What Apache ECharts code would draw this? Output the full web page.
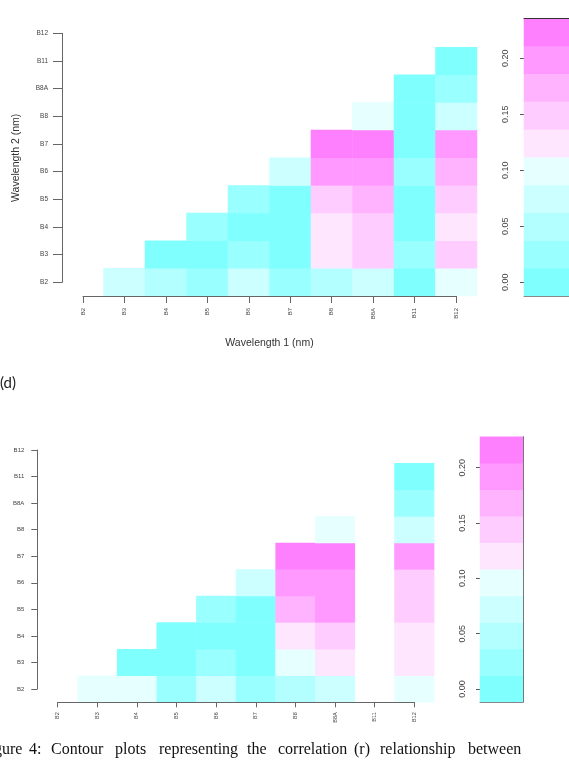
<!DOCTYPE html>
<html>
<head>
  <meta charset="utf-8">
  <title>Contour plots</title>
  <style>
    html, body { margin: 0; padding: 0; background: #fff; }
    #main { width: 569px; height: 761px; }
  </style>
</head>
<body>
  <div id="main"></div>
  <script src="https://cdn.jsdelivr.net/npm/echarts@6/dist/echarts.min.js"></script>
  <script>
    // band names, used on both axes
    const bands = ['B2', 'B3', 'B4', 'B5', 'B6', 'B7', 'B8', 'B8A', 'B11', 'B12'];
    // cm.colors(10)
    const levelColors = ['#80FFFF', '#99FFFF', '#B3FFFF', '#CCFFFF', '#E6FFFF',
                         '#FFE6FF', '#FFCCFF', '#FFB3FF', '#FF99FF', '#FF80FF'];
    const topBreaks = [-0.0125, 0.0125, 0.0375, 0.0625, 0.0875, 0.1125, 0.1375, 0.1625, 0.1875, 0.2125, 0.2375];
    const bottomBreaks = [-0.012, 0.012, 0.036, 0.060, 0.084, 0.108, 0.132, 0.156, 0.180, 0.204, 0.228];
    const barTicks = ['0.00', '0.05', '0.10', '0.15', '0.20'];

    // r values; row = Wavelength 2 (B2..B11), each row starts at the next band on Wavelength 1
    const topRows = [
      [0.075, 0.05, 0.025, 0.075, 0.025, 0.05, 0.075, 0.0, 0.1],   // B2
      [0.0, 0.0, 0.025, 0.0, 0.125, 0.15, 0.025, 0.15],            // B3
      [0.025, 0.0, 0.0, 0.125, 0.15, 0.0, 0.125],                   // B4
      [0.025, 0.0, 0.15, 0.175, 0.0, 0.15],                         // B5
      [0.075, 0.2, 0.2, 0.025, 0.175],                              // B6
      [0.225, 0.225, 0.0, 0.2],                                     // B7
      [0.1, 0.0, 0.075],                                            // B8
      [0.0, 0.025],                                                 // B8A
      [0.0]                                                         // B11
    ];
    // B11 column is empty in the second plot
    const bottomRows = [
      [0.096, 0.096, 0.024, 0.072, 0.024, 0.048, 0.072, null, 0.096],
      [0.0, 0.0, 0.024, 0.0, 0.096, 0.12, null, 0.12],
      [0.0, 0.0, 0.0, 0.12, 0.144, null, 0.12],
      [0.024, 0.0, 0.168, 0.192, null, 0.144],
      [0.072, 0.192, 0.192, null, 0.144],
      [0.216, 0.216, null, 0.192],
      [0.096, null, 0.072],
      [null, 0.024],
      [0.0]
    ];

    const captionWords = ['gure', '4:', 'Contour', 'plots', 'representing', 'the',
                          'correlation', '(r)', 'relationship', 'between'];
    const captionX = [-6, 29, 51, 115, 159, 247, 278, 354, 380, 468];

    function toCells(rows) {
      const out = [];
      rows.forEach((row, y) => {
        row.forEach((v, k) => {
          if (v !== null) out.push([y + 1 + k, y, v]);
        });
      });
      return out;
    }
    function barCells(breaks) {
      const out = [];
      for (let i = 0; i < breaks.length - 1; i++) {
        out.push([0, i, (breaks[i] + breaks[i + 1]) / 2]);
      }
      return out;
    }
    function pieces(breaks) {
      return levelColors.map((c, i) => ({ gte: breaks[i], lt: breaks[i + 1], color: c }));
    }

    const lineCol = '#666';
    const textCol = '#444';
    const font = 'Liberation Sans';

    const hidden = (grid, data) => ({ type: 'category', gridIndex: grid, data: data, show: false });

    function bandAxis(grid, pos, offset, tickLen, margin, size, rotate, extra) {
      return Object.assign({
        type: 'category', gridIndex: grid, data: bands, position: pos, offset: offset,
        boundaryGap: false, z: 5,
        axisLine: { show: true, lineStyle: { color: lineCol, width: 1 } },
        axisTick: { show: true, length: tickLen, interval: 0, lineStyle: { color: lineCol } },
        axisLabel: { interval: 0, rotate: rotate, margin: margin, fontSize: size, color: textCol, fontFamily: font },
        splitLine: { show: false }
      }, extra || {});
    }
    function barAxis(grid, margin) {
      return {
        type: 'category', gridIndex: grid, data: barTicks, boundaryGap: false, position: 'left',
        axisLine: { show: false },
        axisTick: { show: true, length: 4, interval: 0, lineStyle: { color: '#555' } },
        axisLabel: { interval: 0, rotate: 90, margin: margin, fontSize: 9, color: textCol, fontFamily: font },
        splitLine: { show: false }
      };
    }
    function edgeAxis(grid, pos, col) {
      return { type: 'category', gridIndex: grid, data: ['r'], position: pos, z: 5,
        axisLine: { show: true, lineStyle: { color: col } },
        axisTick: { show: false }, axisLabel: { show: false } };
    }

    const graphics = [{
      type: 'text', left: 0, top: 376,
      style: { text: '(d)', font: '15px Lato', fill: '#222' }
    }];
    captionWords.forEach((w, i) => {
      graphics.push({
        type: 'text', left: captionX[i], top: 742,
        style: { text: w, font: '16px "Liberation Serif"', fill: '#111' }
      });
    });

    const option = {
      animation: false,
      backgroundColor: '#fff',
      graphic: graphics,
      grid: [
        { left: 62, top: 19.5, width: 415, height: 276.5 },      // 0 top cells
        { left: 83, top: 33.3, width: 373, height: 249 },        // 1 top axes
        { left: 524, top: 18.3, width: 60, height: 277.7 },      // 2 top colour bar
        { left: 524, top: 58.3, width: 60, height: 224 },        // 3 top bar ticks
        { left: 37.9, top: 436.7, width: 396.2, height: 265.6 }, // 4 bottom cells
        { left: 57.7, top: 450, width: 356.6, height: 239 },     // 5 bottom axes
        { left: 480, top: 436.7, width: 43, height: 265.3 },     // 6 bottom colour bar
        { left: 480, top: 467.7, width: 43, height: 221.3 }      // 7 bottom bar ticks
      ],
      xAxis: [
        hidden(0, bands),
        bandAxis(1, 'bottom', 13.7, 7, 12, 6, 90, {
          name: 'Wavelength 1 (nm)', nameLocation: 'middle', nameGap: 42,
          nameTextStyle: { fontSize: 10.5, color: '#333', fontFamily: font }
        }),
        edgeAxis(2, 'bottom', '#888'),
        hidden(3, ['r']),
        hidden(4, bands),
        bandAxis(5, 'bottom', 13.3, 5, 10, 5.5, 90),
        edgeAxis(6, 'bottom', '#888'),
        hidden(7, ['r']),
        edgeAxis(2, 'top', '#333')
      ],
      yAxis: [
        hidden(0, bands),
        bandAxis(1, 'left', 21, 9, 14, 6.5, 0, {
          name: 'Wavelength 2 (nm)', nameLocation: 'middle', nameGap: 40,
          nameTextStyle: { fontSize: 10.5, color: '#333', fontFamily: font }
        }),
        hidden(2, levelColors),
        barAxis(3, 14),
        hidden(4, bands),
        bandAxis(5, 'left', 20.4, 6, 13, 6, 0),
        { type: 'category', gridIndex: 6, data: levelColors, position: 'right', z: 5,
          axisLine: { show: true, lineStyle: { color: '#777' } },
          axisTick: { show: false }, axisLabel: { show: false } },
        barAxis(7, 13.3)
      ],
      visualMap: [
        { type: 'piecewise', show: false, dimension: 2, seriesIndex: [0, 1], pieces: pieces(topBreaks) },
        { type: 'piecewise', show: false, dimension: 2, seriesIndex: [2, 3], pieces: pieces(bottomBreaks) }
      ],
      series: [
        { type: 'heatmap', xAxisIndex: 0, yAxisIndex: 0, data: toCells(topRows), emphasis: { disabled: true } },
        { type: 'heatmap', xAxisIndex: 2, yAxisIndex: 2, data: barCells(topBreaks), emphasis: { disabled: true } },
        { type: 'heatmap', xAxisIndex: 4, yAxisIndex: 4, data: toCells(bottomRows), emphasis: { disabled: true } },
        { type: 'heatmap', xAxisIndex: 6, yAxisIndex: 6, data: barCells(bottomBreaks), emphasis: { disabled: true } }
      ]
    };

    var chart = echarts.init(document.getElementById('main'));
    chart.setOption(option);
  </script>
</body>
</html>
